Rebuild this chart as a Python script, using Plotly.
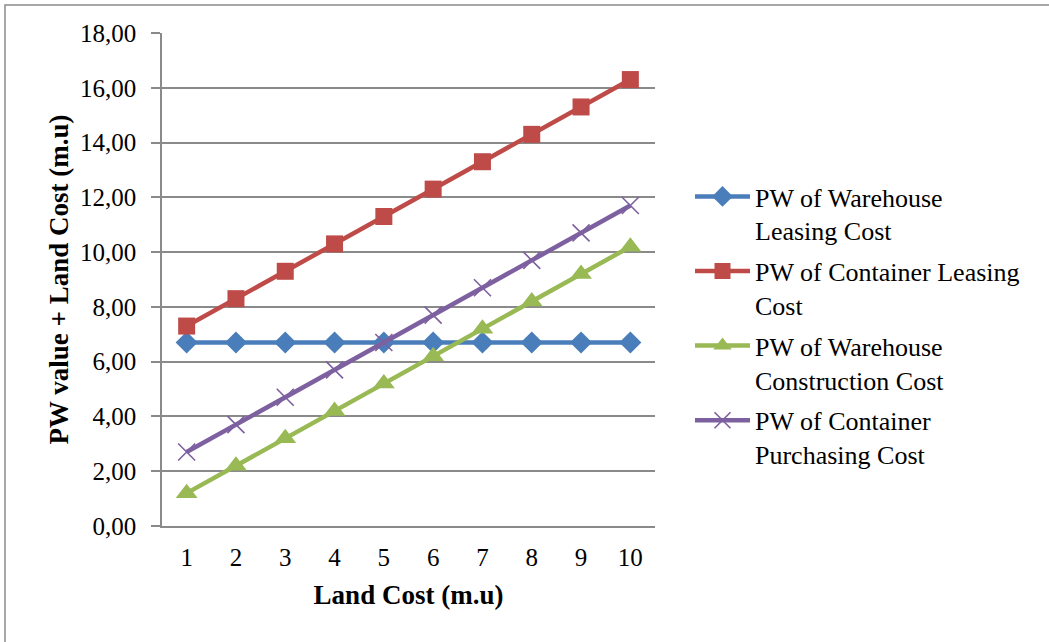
import plotly.graph_objects as go

# Land cost levels (m.u)
land_cost = [1, 2, 3, 4, 5, 6, 7, 8, 9, 10]

# Present-worth value + land cost for each option (m.u)
warehouse_leasing = [6.7, 6.7, 6.7, 6.7, 6.7, 6.7, 6.7, 6.7, 6.7, 6.7]
container_leasing = [7.3, 8.3, 9.3, 10.3, 11.3, 12.3, 13.3, 14.3, 15.3, 16.3]
warehouse_construction = [1.2, 2.2, 3.2, 4.2, 5.2, 6.2, 7.2, 8.2, 9.2, 10.2]
container_purchasing = [2.7, 3.7, 4.7, 5.7, 6.7, 7.7, 8.7, 9.7, 10.7, 11.7]

y_ticks = [0, 2, 4, 6, 8, 10, 12, 14, 16, 18]
y_tick_text = ["0,00", "2,00", "4,00", "6,00", "8,00", "10,00",
               "12,00", "14,00", "16,00", "18,00"]

FONT = "Liberation Serif"
GRID = "#8a8a8a"
PLOT_W = 493  # plot-area width in px, used to place paper-referenced items

series = [
    ("PW of Warehouse<br>Leasing Cost", warehouse_leasing, "#4A7EBB",
     dict(symbol="diamond", size=17)),
    ("PW of Container Leasing<br>Cost", container_leasing, "#BE4B48",
     dict(symbol="square", size=17)),
    ("PW of Warehouse<br>Construction Cost", warehouse_construction, "#98B954",
     dict(symbol="triangle-up", size=19)),
    ("PW of Container<br>Purchasing Cost", container_purchasing, "#7D60A0",
     dict(symbol="x-thin-open", size=17, line=dict(width=1.6, color="#7D60A0"))),
]

fig = go.Figure()
for i, (name, vals, color, marker) in enumerate(series):
    fig.add_trace(go.Scatter(
        x=land_cost, y=vals, name=name, mode="lines+markers",
        line=dict(color=color, width=4.5),
        marker=dict(color=color, **marker),
        legendgroup=f"g{i}",
    ))

fig.update_layout(
    width=1049, height=642,
    margin=dict(l=162, r=394, t=33, b=116),
    paper_bgcolor="white", plot_bgcolor="white",
    font=dict(family=FONT, size=25, color="black"),
    showlegend=True,
    legend=dict(
        x=1.071, xanchor="left", y=0.716, yanchor="top",
        font=dict(family=FONT, size=26, color="black"),
        itemwidth=55, tracegroupgap=4, valign="top",
        bgcolor="rgba(0,0,0,0)",
    ),
    xaxis=dict(
        range=[0.5, 10.5], tickmode="array", tickvals=land_cost,
        ticks="", showgrid=False, zeroline=False,
        showline=True, linecolor=GRID, linewidth=1.5,
        ticklabelstandoff=8,
        tickfont=dict(family=FONT, size=25),
        title=dict(text="<b>Land Cost (m.u)</b>", standoff=15,
                   font=dict(family=FONT, size=27)),
        fixedrange=True,
    ),
    yaxis=dict(
        range=[0, 18], tickmode="array", tickvals=y_ticks, ticktext=y_tick_text,
        ticks="outside", ticklen=9, tickcolor=GRID, tickwidth=1.5,
        showgrid=True, gridcolor=GRID, gridwidth=1.5, zeroline=False,
        showline=True, linecolor=GRID, linewidth=1.5,
        ticklabelstandoff=10,
        tickfont=dict(family=FONT, size=25),
        fixedrange=True,
    ),
    annotations=[dict(
        text="<b>PW value + Land Cost (m.u)</b>", textangle=-90,
        xref="paper", yref="paper", x=-104 / PLOT_W, y=0.5,
        xanchor="center", yanchor="middle", showarrow=False,
        font=dict(family=FONT, size=27, color="black"),
    )],
    shapes=[dict(type="rect", xref="paper", yref="paper",
                 x0=-157 / PLOT_W, x1=900 / PLOT_W, y0=-1.0, y1=1 + 28 / PLOT_W,
                 line=dict(color="#8a8a8a", width=1.5), layer="below")],
)

fig.write_html("out.html")
